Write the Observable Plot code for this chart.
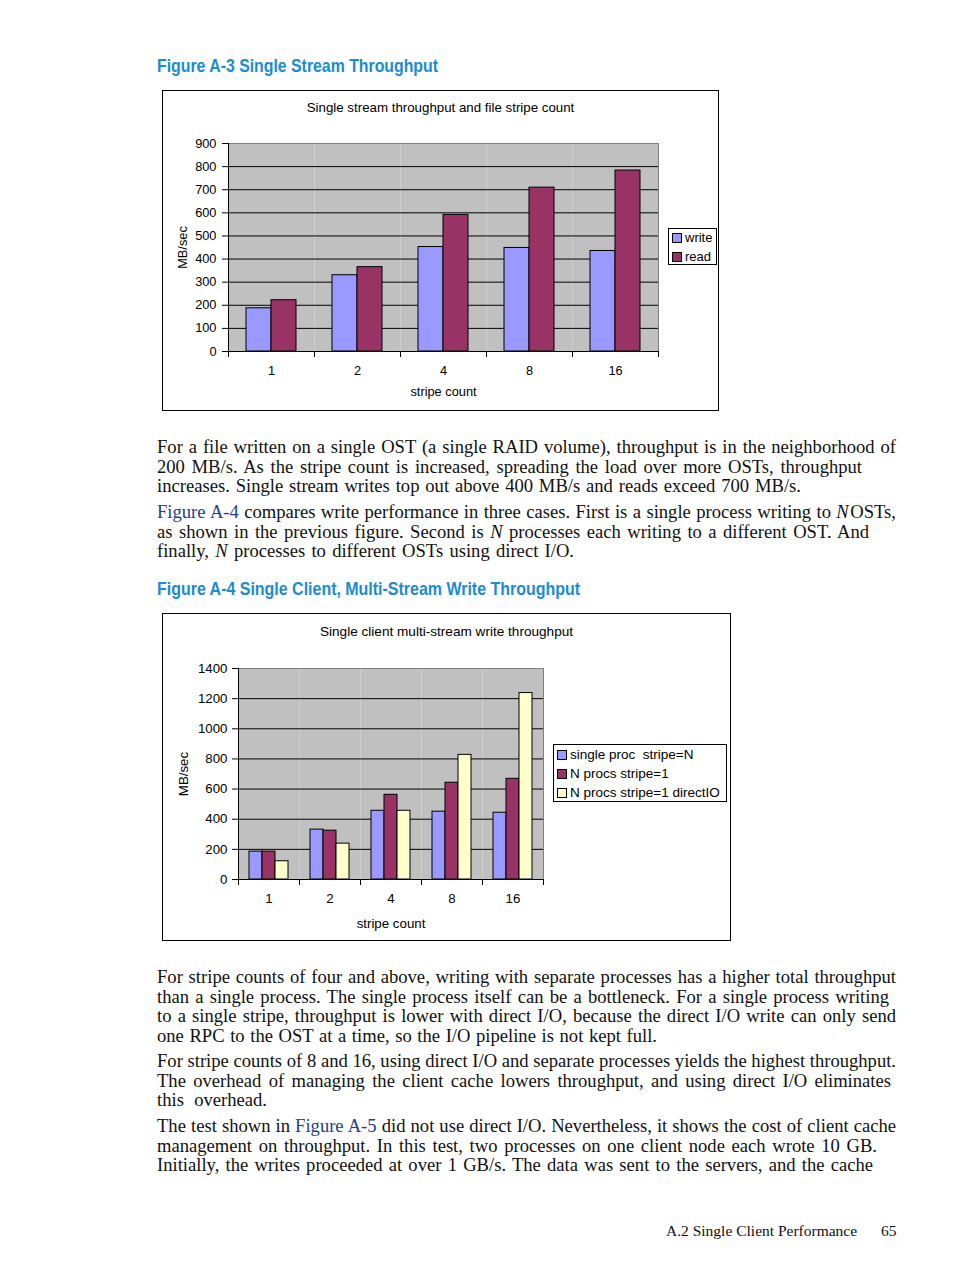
<!DOCTYPE html>
<html>
<head>
<meta charset="utf-8">
<script src="https://cdn.jsdelivr.net/npm/d3@7"></script>
<script src="https://cdn.jsdelivr.net/npm/@observablehq/plot@0.6"></script>
<style>
  html, body { margin: 0; padding: 0; background: #fff; }
  #page { position: relative; width: 954px; height: 1271px; overflow: hidden; font-family: "Liberation Serif", serif; color: #111; }
  .abs { position: absolute; }
  .heading { font-family: "Liberation Sans", Arial, sans-serif; font-weight: bold; font-size: 18.5px; color: #1b8bd2; line-height: 22px; white-space: nowrap; transform-origin: 0 0; }
  .para { left: 157px; font-size: 18.6px; line-height: 19.6px; }
  .para span.ln { display: inline-block; white-space: nowrap; }
  .link { color: #24408a; }
  .chartbox { position: absolute; border: 1px solid #000; box-sizing: border-box; background: #fff; }
  .ctitle { position: absolute; left: 0; right: 0; text-align: center; font-family: "Liberation Sans", Arial, sans-serif; color: #000; }
  .legend { position: absolute; border: 1px solid #000; background: #fff; box-sizing: border-box; font-family: "Liberation Sans", Arial, sans-serif; color: #000; }
  .legend .item { position: absolute; left: 3px; white-space: pre; line-height: 14px; }
  .legend .sw { display: inline-block; width: 8px; height: 8px; border: 1px solid #000; margin-right: 3px; vertical-align: -1px; }
  .footer { font-family: "Liberation Serif", serif; font-size: 15.5px; white-space: nowrap; }
</style>
</head>
<body>
<div id="page"></div>
<script>
// ---------- data ----------
const stripeCounts = ["1", "2", "4", "8", "16"];

const chart1Series = ["write", "read"];
const chart1Write = [187, 330, 452, 448, 435];
const chart1Read = [222, 365, 591, 709, 783];
const chart1Colors = ["#9999FF", "#993366"];

const chart2Series = ["single proc  stripe=N", "N procs stripe=1", "N procs stripe=1 directIO"];
const chart2SingleProc = [185, 331, 456, 450, 443];
const chart2NProcs = [185, 324, 562, 642, 668];
const chart2NProcsDirect = [121, 238, 456, 827, 1237];
const chart2Colors = ["#9999FF", "#993366", "#FFFFCC"];

const chart1Title = "Single stream throughput and file stripe count";
const chart2Title = "Single client multi-stream write throughput";
const yLabel = "MB/sec";
const xLabel = "stripe count";

// ---------- page ----------
const page = document.getElementById("page");
function add(html, cls, style) {
  const d = document.createElement("div");
  d.className = "abs " + (cls || "");
  Object.assign(d.style, style || {});
  d.innerHTML = html;
  page.appendChild(d);
  return d;
}

function heading(text, top, targetW) {
  const h = add(text, "heading", {left: "157px", top: top + "px"});
  const w = h.getBoundingClientRect().width;
  h.style.transform = `scaleX(${targetW / w})`;
}
heading("Figure A-3 Single Stream Throughput", 55, 281);
heading("Figure A-4 Single Client, Multi-Stream Write Throughput", 578, 423);

function para(top, lines) {
  const html = lines.map(([w, t]) => `<div><span class="ln" data-w="${w}">${t}</span></div>`).join("");
  const p = add(html, "para", {top: top + "px"});
  p.querySelectorAll("span.ln").forEach(s => {
    const target = +s.dataset.w;
    const natural = s.getBoundingClientRect().width;
    const spaces = (s.textContent.match(/ /g) || []).length;
    if (spaces) s.style.wordSpacing = ((target - natural) / spaces) + "px";
  });
}
para(437, [
  [739, "For a file written on a single OST (a single RAID volume), throughput is in the neighborhood of"],
  [705, "200 MB/s. As the stripe count is increased, spreading the load over more OSTs, throughput"],
  [644, "increases. Single stream writes top out above 400 MB/s and reads exceed 700 MB/s."]
]);
para(502, [
  [739, '<span class="link">Figure A-4</span> compares write performance in three cases. First is a single process writing to <i>N</i>&#8202;OSTs,'],
  [712, "as shown in the previous figure. Second is <i>N</i> processes each writing to a different OST. And"],
  [417, "finally, <i>N</i> processes to different OSTs using direct I/O."]
]);
para(967, [
  [739, "For stripe counts of four and above, writing with separate processes has a higher total throughput"],
  [732, "than a single process. The single process itself can be a bottleneck. For a single process writing"],
  [739, "to a single stripe, throughput is lower with direct I/O, because the direct I/O write can only send"],
  [500, "one RPC to the OST at a time, so the I/O pipeline is not kept full."]
]);
para(1051, [
  [739, "For stripe counts of 8 and 16, using direct I/O and separate processes yields the highest throughput."],
  [734, "The overhead of managing the client cache lowers throughput, and using direct I/O eliminates"],
  [110, "this overhead."]
]);
para(1116, [
  [739, 'The test shown in <span class="link">Figure A-5</span> did not use direct I/O. Nevertheless, it shows the cost of client cache'],
  [720, "management on throughput. In this test, two processes on one client node each wrote 10 GB."],
  [716, "Initially, the writes proceeded at over 1 GB/s. The data was sent to the servers, and the cache"]
]);
add("A.2 Single Client Performance", "footer", {left: "666px", top: "1222px"});
add("65", "footer", {left: "881px", top: "1222px"});

// ---------- charts ----------
function tidy(series, arrays) {
  return stripeCounts.flatMap((s, i) => series.map((k, j) => ({stripe: s, series: k, value: arrays[j][i]})));
}

function makeChart(cfg) {
  const box = document.createElement("div");
  box.className = "chartbox";
  Object.assign(box.style, {left: cfg.left + "px", top: cfg.top + "px", width: cfg.boxW + "px", height: cfg.boxH + "px"});
  page.appendChild(box);

  const t = document.createElement("div");
  t.className = "ctitle";
  t.style.top = cfg.titleTop + "px";
  t.style.fontSize = cfg.titleSize;
  t.textContent = cfg.title;
  box.appendChild(t);

  const W = cfg.boxW - 2, H = cfg.boxH - 2;
  const plotH = H - cfg.mt - cfg.mb;
  const data = tidy(cfg.series, cfg.arrays);

  const chart = Plot.plot({
    width: W, height: H,
    marginLeft: cfg.ml, marginRight: cfg.mr, marginTop: cfg.mt, marginBottom: cfg.mb,
    style: {fontFamily: "Liberation Sans, Arial, sans-serif", fontSize: cfg.fontSize, color: "#000", background: "transparent", overflow: "visible"},
    fx: {domain: stripeCounts, padding: 0, label: null, axis: null},
    x: {domain: cfg.series, paddingInner: 0, paddingOuter: cfg.outer, axis: null},
    y: {domain: cfg.yDomain, axis: null},
    color: {domain: cfg.series, range: cfg.colors},
    marks: [
      Plot.frame({fill: "#C0C0C0", stroke: null}),
      Plot.gridY({ticks: cfg.yTicks, stroke: "#000", strokeOpacity: 1}),
      Plot.frame({anchor: "top", stroke: "#808080"}),
      Plot.frame({anchor: "right", facetAnchor: "right", stroke: "#808080"}),
      Plot.barY(data, {fx: "stripe", x: "series", y: "value", fill: "series", stroke: "#000", strokeWidth: 1}),
      Plot.frame({anchor: "left", stroke: "#000", insetTop: plotH, insetBottom: -5}),
      Plot.frame({anchor: "right", facetAnchor: "right", stroke: "#000", insetTop: plotH, insetBottom: -5}),
      Plot.frame({anchor: "left", facetAnchor: "left", stroke: "#000"}),
      Plot.ruleY([0], {stroke: "#000"}),
      Plot.axisY({ticks: cfg.yTicks, tickFormat: d3.format("d"), tickSize: 6, tickPadding: cfg.yPad, label: yLabel, labelAnchor: "center", labelArrow: "none", labelOffset: cfg.yLabelOffset}),
      Plot.axisFx({anchor: "bottom", tickSize: 0, tickPadding: cfg.fxPad, label: xLabel, labelAnchor: "center", labelArrow: "none", labelOffset: cfg.fxLabelOffset})
    ]
  });
  chart.style.position = "absolute";
  chart.style.left = "0px";
  chart.style.top = "0px";
  box.appendChild(chart);

  const lg = document.createElement("div");
  lg.className = "legend";
  Object.assign(lg.style, {left: cfg.lg.left + "px", top: cfg.lg.top + "px", width: cfg.lg.w + "px", height: cfg.lg.h + "px", fontSize: cfg.lg.size});
  cfg.series.forEach((s, i) => {
    const it = document.createElement("div");
    it.className = "item";
    it.style.top = (cfg.lg.first + i * cfg.lg.step) + "px";
    it.innerHTML = `<span class="sw" style="background:${cfg.colors[i]}"></span>`;
    it.appendChild(document.createTextNode(s));
    lg.appendChild(it);
  });
  box.appendChild(lg);
}

makeChart({
  left: 162, top: 90, boxW: 557, boxH: 321,
  title: chart1Title, titleTop: 9, titleSize: "13.3px",
  ml: 65, mr: 60, mt: 52, mb: 59,
  series: chart1Series, arrays: [chart1Write, chart1Read], colors: chart1Colors,
  outer: 0.72, yDomain: [0, 900], yTicks: 9, yPad: 6, yLabelOffset: 51,
  fxPad: 14, fxLabelOffset: 44, fontSize: "12.8px",
  lg: {left: 505, top: 137, w: 49, h: 37, first: 2, step: 19, size: "13px"}
});

makeChart({
  left: 162, top: 613, boxW: 569, boxH: 328,
  title: chart2Title, titleTop: 10, titleSize: "13.6px",
  ml: 73, mr: 185, mt: 54, mb: 61,
  series: chart2Series, arrays: [chart2SingleProc, chart2NProcs, chart2NProcsDirect], colors: chart2Colors,
  outer: 0.68, yDomain: [0, 1400], yTicks: 7, yPad: 5, yLabelOffset: 60,
  fxPad: 14, fxLabelOffset: 48, fontSize: "13.3px",
  lg: {left: 390, top: 130, w: 174, h: 58, first: 3, step: 19, size: "13.5px"}
});
</script>
</body>
</html>
